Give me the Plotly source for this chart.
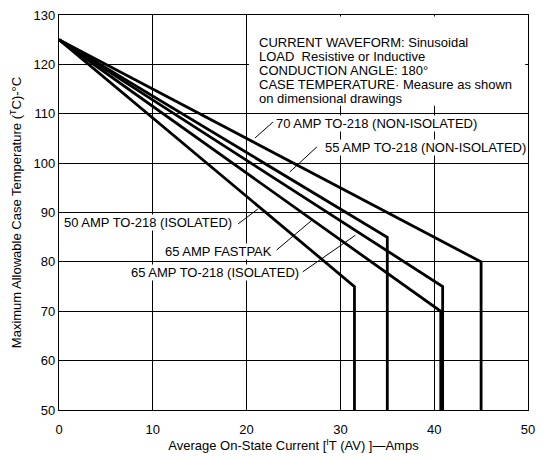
import plotly.graph_objects as go

# ---- data ----
series_names = [
    "50 AMP TO-218 (ISOLATED)",
    "65 AMP FASTPAK",
    "65 AMP TO-218 (ISOLATED)",
    "55 AMP TO-218 (NON-ISOLATED)",
    "70 AMP TO-218 (NON-ISOLATED)",
]
start_current = 0
start_temp = 125
knee_current = [31.5, 40.7, 40.9, 35.0, 45.0]
knee_temp = [75, 70, 75, 85, 80]
floor_temp = 50

x_ticks = [0, 10, 20, 30, 40, 50]
y_ticks = [50, 60, 70, 80, 90, 100, 110, 120, 130]

note_lines = [
    "CURRENT WAVEFORM: Sinusoidal",
    "LOAD  Resistive or Inductive",
    "CONDUCTION ANGLE: 180°",
    "CASE TEMPERATURE· Measure as shown",
    "on dimensional drawings",
]

FONT = "Liberation Sans, Arial, sans-serif"

fig = go.Figure()
for name, kx, ky in zip(series_names, knee_current, knee_temp):
    fig.add_trace(go.Scatter(
        x=[start_current, kx, kx], y=[start_temp, ky, floor_temp],
        mode="lines", name=name,
        line=dict(color="black", width=2.8),
        showlegend=False, hoverinfo="skip",
    ))

# white box behind the conditions note (hides grid lines)
fig.add_shape(type="rect", xref="x", yref="y", x0=20.25, x1=49.7, y0=111.6, y1=129.7,
              fillcolor="white", line=dict(width=0), layer="above")
note_x, note_top, note_step = 21.1, 124.5, 2.84
for i, line in enumerate(note_lines):
    fig.add_annotation(xref="x", yref="y", x=note_x, y=note_top - i * note_step,
                       xanchor="left", yanchor="middle", text=line, showarrow=False,
                       font=dict(family=FONT, size=13, color="black"))

# series labels with leader lines
labels = [
    # text, x, y, xanchor, leader start (x,y), leader end (x,y)
    (series_names[4], 23.0, 108.1, "left", (22.8, 108.3), (20.9, 105.1)),
    (series_names[3], 49.9, 103.1, "right", (27.5, 103.3), (24.6, 98.2)),
    (series_names[0], 0.4, 87.9, "left", (19.1, 87.7), (21.2, 90.7)),
    (series_names[1], 22.8, 82.2, "right", (23.2, 82.4), (27.0, 88.5)),
    (series_names[2], 25.7, 77.75, "right", (26.0, 78.0), (31.6, 85.4)),
]
for text, x, y, xa, (sx, sy), (ex, ey) in labels:
    fig.add_shape(type="line", xref="x", yref="y", x0=sx, y0=sy, x1=ex, y1=ey,
                  line=dict(color="black", width=1), layer="above")
    fig.add_annotation(xref="x", yref="y", x=x, y=y, xanchor=xa, yanchor="middle",
                       text=text, showarrow=False, bgcolor="white", borderpad=0,
                       font=dict(family=FONT, size=13, color="black"))

fig.update_layout(
    width=546, height=462,
    margin=dict(l=51, r=26, t=7, b=60, autoexpand=False),
    paper_bgcolor="white", plot_bgcolor="white",
    font=dict(family=FONT, size=13, color="black"),
    showlegend=False,
)
fig.update_xaxes(
    range=[0, 50], tickvals=x_ticks, ticktext=[str(v) for v in x_ticks],
    showgrid=True, gridcolor="black", gridwidth=1,
    showline=True, linecolor="black", linewidth=1.2, mirror=True,
    ticks="", zeroline=False, automargin=False, ticklabelstandoff=7,
    ticklabeloverflow="allow",
    tickfont=dict(family=FONT, size=13, color="black"),
    title=dict(text="Average On-State Current [<sup>I</sup>T (AV) ]—Amps",
               font=dict(family=FONT, size=13, color="black"), standoff=5),
)
fig.update_yaxes(
    range=[50, 130], tickvals=y_ticks, ticktext=[str(v) for v in y_ticks],
    showgrid=True, gridcolor="black", gridwidth=1,
    showline=True, linecolor="black", linewidth=1.2, mirror=True,
    ticks="", zeroline=False, automargin=False, ticklabeloverflow="allow",
    tickfont=dict(family=FONT, size=13, color="black"),
    title=dict(text="Maximum Allowable Case Temperature (<sup>T</sup>C)-°C",
               font=dict(family=FONT, size=13, color="black"), standoff=10),
)

fig.write_html("out.html")
